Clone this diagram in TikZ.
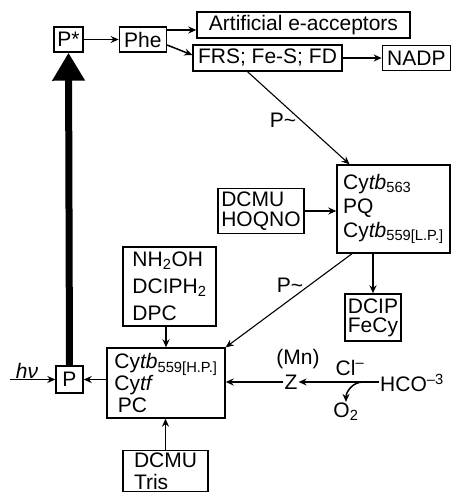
\documentclass[tikz,border=0pt]{standalone}
\usepackage{fontspec}
\setmainfont{Liberation Sans}
\usetikzlibrary{arrows.meta, positioning}

\begin{document}
\begin{tikzpicture}[x=1pt, y=-1pt,
            box/.style={draw=black, line width=1.4pt, inner sep=3pt, align=left, font=\fontsize{21}{23}\selectfont},
            plain/.style={inner sep=1pt, font=\fontsize{21}{23}\selectfont},
            arrow/.style={-{Stealth[length=8pt, width=7pt]}, line width=1.5pt},
            thin arrow/.style={-{Stealth[length=8pt, width=7pt]}, line width=1.1pt},
            big arrow/.style={-{Triangle[length=28pt, width=31pt]}, line width=7pt}
        ]
            \useasboundingbox (0,0) rectangle (451,496);

            \node[box, minimum width=29pt, minimum height=25pt] (pstar) at (68.5,39.5) {P*};
            \node[box, minimum width=47pt, minimum height=25pt, right=35pt of pstar] (phe) {Phe};
            \node[box, minimum width=213pt, minimum height=26pt] (artif) at (303.5,25) {Artificial e-acceptors};
            \node[box, minimum width=149pt, minimum height=26pt] (frs) at (267.5,58) {FRS; Fe-S; FD};
            \node[box, minimum width=68pt, minimum height=25pt, right=39pt of frs] (nadp) {NADP};

            \node[box, minimum width=113pt, minimum height=88pt, font=\fontsize{21}{24}\selectfont] (cytL) at (393.5,209)
                {Cy\textit{tb}\textsubscript{563}\\PQ\\Cy\textit{tb}\textsubscript{559[L.P.]}};
            \node[box, minimum width=86pt, minimum height=42pt, font=\fontsize{21}{20}\selectfont] (inhib) at (261,211) {DCMU\\HOQNO};
            \node[box, minimum width=54pt, minimum height=47pt, font=\fontsize{21}{19}\selectfont] (dcip) at (373,317.5) {DCIP\\FeCy};

            \node[box, minimum width=93pt, minimum height=79pt, font=\fontsize{21}{27}\selectfont] (donors) at (169.5,286.5)
                {NH\textsubscript{2}OH\\DCIPH\textsubscript{2}\\DPC};
            \node[box, minimum width=118pt, minimum height=70pt, font=\fontsize{21}{22}\selectfont] (cytH) at (166,383)
                {Cy\textit{tb}\textsubscript{559[H.P.]}\\Cy\textit{tf}\\\,PC};
            \node[box, minimum width=27pt, minimum height=27pt] (p) at (69.5,379.5) {P};
            \node[box, anchor=north, minimum width=85pt, inner ysep=2pt, font=\fontsize{21}{22}\selectfont] (dcmu) at (165.5,450) {DCMU\\Tris};

            \node[plain] (hv) at (27,371) {\textit{hν}};
            \coordinate (hvstart) at (10,379.5);
            \node[plain] (z) at (291,382) {Z};
            \node[plain] (mn) at (298,359) {(Mn)};
            \node[plain] (cl) at (350,368) {Cl\textsuperscript{–}};
            \node[plain] (hco) at (412,383) {HCO\textsuperscript{–3}};
            \node[plain] (o2) at (346,412) {O\textsubscript{2}};
            \coordinate (split) at (363,382);
            \node[plain] (ptilde1) at (283,120) {P\textasciitilde};
            \node[plain] (ptilde2) at (290,285) {P\textasciitilde};

            \draw[big arrow] (p.north) -- (pstar.south);
            \draw[arrow] (pstar) -- (phe);
            \draw[arrow] ([yshift=9.5pt]phe.east) -- ([yshift=9.5pt]phe.east -| artif.west);
            \draw[arrow] ([yshift=-5.5pt]phe.east) -- ([yshift=3pt]frs.west);
            \draw[arrow] (frs) -- (nadp);
            \draw[thin arrow] ([xshift=-20pt]frs.south) -- ([xshift=-44pt]cytL.north);
            \draw[arrow] (inhib.east) -- (inhib.east -| cytL.west);
            \draw[arrow] (dcip.north |- cytL.south) -- (dcip.north);
            \draw[thin arrow] ([xshift=-41.5pt]cytL.south) -- (cytH.north east);
            \draw[arrow] (cytH.north |- donors.south) -- (cytH.north);
            \draw[arrow] (p.west -| cytH.west) -- (p.east);
            \draw[arrow] (hvstart) -- (hvstart -| p.west);
            \draw[arrow] (z.west) -- (z.west -| cytH.east);
            \draw[arrow] (hco.west |- z) -- (z.east);
            \draw[arrow] (split) to[out=180, in=90] (o2.north);
            \draw[arrow] (dcmu.north) -- (dcmu.north |- cytH.south);
        \end{tikzpicture}
\end{document}
